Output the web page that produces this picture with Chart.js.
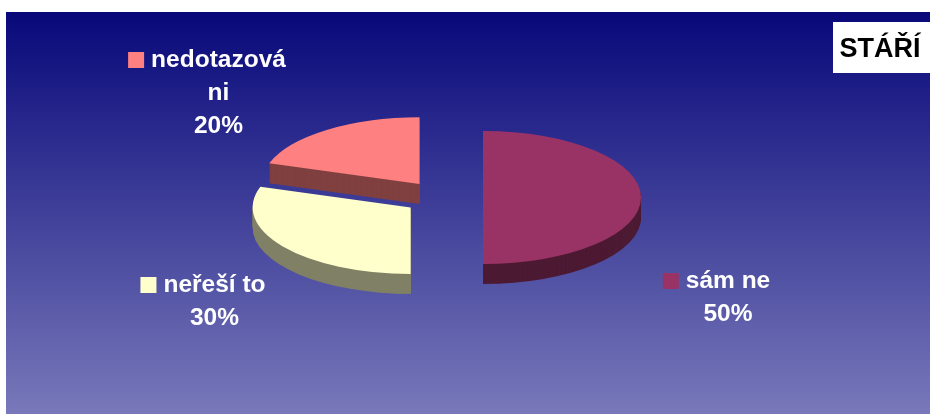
<!DOCTYPE html>
<html>
<head>
<meta charset="utf-8">
<script src="https://cdn.jsdelivr.net/npm/chart.js@4/dist/chart.umd.min.js"></script>
<style>
  html, body { margin: 0; padding: 0; background: #ffffff; }
  canvas { display: block; }
</style>
</head>
<body>
<canvas id="chart" width="934" height="414"></canvas>
<script>
// Data: slices run clockwise from 12 o'clock
const categories = ['sám ne', 'neřeší to', 'nedotazováni'];
const values = [50, 30, 20];
const chartTitle = 'STÁŘÍ';

// Look of each slice
const topColors = ['#993366', '#FFFFCC', '#FF8080'];
const sideColors = ['#4D1A33', '#808066', '#804040'];
const explodeBy = [40, 40, 40];     // radial pull-out of each slice, px
const tilt = 0.421;                 // vertical squash of the pie disc
const depth = 20;                   // thickness of the pie, px

// Label blocks: centre x of the text lines, baseline of the first line
const labelAnchors = [
  { x: 728, y: 288 },
  { x: 214.5, y: 292 },
  { x: 218.5, y: 67 }
];

const LABEL_FONT = "bold 24.5px 'Liberation Sans', Arial, sans-serif";
const TITLE_FONT = "bold 27px 'Liberation Sans', Arial, sans-serif";
const PANEL = { left: 6, top: 12, right: 930, bottom: 414 };

function wrapText(ctx, text, maxWidth) {
  const lines = [];
  let cur = '';
  for (const ch of text) {
    const next = cur + ch;
    if (cur && ctx.measureText(next).width > maxWidth) {
      lines.push(cur);
      cur = ch.trim() ? ch : '';
    } else {
      cur = next;
    }
  }
  if (cur) lines.push(cur);
  return lines;
}

const pie3d = {
  id: 'pie3d',
  beforeDraw(chart) {
    const ctx = chart.ctx;
    ctx.save();
    ctx.fillStyle = '#ffffff';
    ctx.fillRect(0, 0, chart.width, chart.height);
    const g = ctx.createLinearGradient(0, PANEL.top, 0, PANEL.bottom);
    g.addColorStop(0, 'rgb(8,8,122)');
    g.addColorStop(1, 'rgb(120,120,186)');
    ctx.fillStyle = g;
    ctx.fillRect(PANEL.left, PANEL.top, PANEL.right - PANEL.left, PANEL.bottom - PANEL.top);
    ctx.restore();
  },
  beforeDatasetDraw(chart, args) {
    const ctx = chart.ctx;
    const arcs = args.meta.data;
    const geo = arcs.map((arc, i) => {
      const p = arc.getProps(['x', 'y', 'startAngle', 'endAngle', 'outerRadius'], true);
      const mid = (p.startAngle + p.endAngle) / 2;
      return Object.assign(p, { i, ex: Math.cos(mid) * explodeBy[i], ey: Math.sin(mid) * explodeBy[i] });
    });
    // back slices first
    const order = geo.slice().sort((a, b) => a.ey - b.ey);
    for (const s of order) {
      const place = (dy) => {
        ctx.translate(s.x, s.y + dy);
        ctx.scale(1, tilt);
        ctx.translate(-s.x + s.ex, -s.y + s.ey);
      };
      // side wall: stacked copies of the wedge below the top face
      ctx.save();
      ctx.fillStyle = sideColors[s.i];
      for (let d = depth; d >= 1; d--) {
        ctx.save();
        place(d);
        ctx.beginPath();
        ctx.moveTo(s.x, s.y);
        ctx.arc(s.x, s.y, s.outerRadius, s.startAngle, s.endAngle);
        ctx.closePath();
        ctx.fill();
        ctx.restore();
      }
      ctx.restore();
      // top face, drawn by the arc element itself
      ctx.save();
      place(0);
      arcs[s.i].draw(ctx, chart.chartArea);
      ctx.restore();
    }
    return false;
  },
  afterDraw(chart) {
    const ctx = chart.ctx;
    const total = values.reduce((a, b) => a + b, 0);
    ctx.save();
    ctx.font = LABEL_FONT;
    ctx.textAlign = 'center';
    ctx.textBaseline = 'alphabetic';
    categories.forEach((name, i) => {
      const lines = wrapText(ctx, name, 148);
      lines.push(Math.round(values[i] / total * 100) + '%');
      const a = labelAnchors[i];
      lines.forEach((line, j) => {
        ctx.fillStyle = '#ffffff';
        ctx.fillText(line, a.x, a.y + j * 33);
      });
      const w0 = ctx.measureText(lines[0]).width;
      const keyRight = a.x - w0 / 2 - 7;
      ctx.fillStyle = topColors[i];
      ctx.fillRect(keyRight - 16, a.y - 15, 16, 16);
    });
    // title box
    ctx.fillStyle = '#ffffff';
    ctx.fillRect(833, 22, PANEL.right - 833, 51);
    ctx.fillStyle = '#000000';
    ctx.font = TITLE_FONT;
    ctx.textAlign = 'center';
    ctx.fillText(chartTitle, 880, 57);
    ctx.restore();
  }
};

new Chart(document.getElementById('chart'), {
  type: 'pie',
  data: {
    labels: categories,
    datasets: [{
      data: values,
      backgroundColor: topColors,
      borderWidth: 0,
      offset: 0,
      radius: 158
    }]
  },
  options: {
    responsive: false,
    animation: false,
    devicePixelRatio: 1,
    events: [],
    radius: 158,
    layout: { padding: { left: 0, right: 48, top: 0, bottom: 19 } },
    plugins: {
      legend: { display: false },
      tooltip: { enabled: false },
      title: { display: false }
    }
  },
  plugins: [pie3d]
});
</script>
</body>
</html>
